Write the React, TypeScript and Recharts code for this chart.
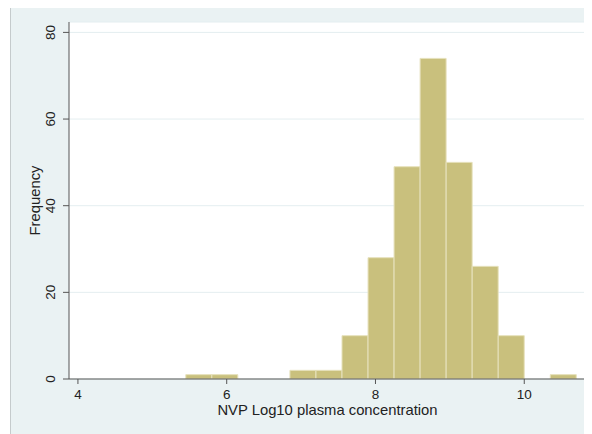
import React from "react";
import { BarChart, Bar, XAxis, YAxis, CartesianGrid } from "recharts";

// Histogram bins: lower edge of each bin, common width, and observed counts
const binLow = [5.45, 5.8, 6.15, 6.5, 6.85, 7.2, 7.55, 7.9, 8.25, 8.6, 8.95, 9.3, 9.65, 10.0, 10.35];
const binWidth = 0.35;
const frequency = [1, 1, 0, 0, 2, 2, 10, 28, 49, 74, 50, 26, 10, 0, 1];

const xTicks = [4, 6, 8, 10];
const yTicks = [0, 20, 40, 60, 80];

const data = binLow.map((lo, i) => ({ mid: lo + binWidth / 2, count: frequency[i] }));

const FONT = '"Liberation Sans", Arial, Helvetica, sans-serif';

const YTick = (props: any) => {
  const { x, y, payload } = props;
  return (
    <text
      x={x}
      y={y}
      transform={`rotate(-90, ${x}, ${y})`}
      textAnchor="middle"
      fontFamily={FONT}
      fontSize={13.5}
      fill="#222"
    >
      {payload.value}
    </text>
  );
};

const YLabel = (props: any) => {
  const vb = props.viewBox || {};
  const cx = (vb.x || 0) + 29;
  const cy = (vb.y || 0) + (vb.height || 0) / 2;
  return (
    <text
      x={cx}
      y={cy}
      transform={`rotate(-90, ${cx}, ${cy})`}
      textAnchor="middle"
      fontFamily={FONT}
      fontSize={14.8}
      fill="#222"
    >
      Frequency
    </text>
  );
};

const XLabel = (props: any) => {
  const vb = props.viewBox || {};
  const cx = (vb.x || 0) + (vb.width || 0) / 2;
  const cy = (vb.y || 0) + 36;
  return (
    <text x={cx} y={cy} textAnchor="middle" fontFamily={FONT} fontSize={14.8} fill="#222">
      NVP Log10 plasma concentration
    </text>
  );
};

export default function App() {
  return (
    <div
      style={{
        marginLeft: 2,
        width: 581,
        height: 426,
        background: "#EAF2F3",
        borderLeft: "1px solid #C5CBCC",
      }}
    >
      <BarChart
        width={581}
        height={426}
        data={data}
        margin={{ top: 14, right: 6, left: 0, bottom: 0 }}
        barCategoryGap={0}
        barGap={0}
      >
        <CartesianGrid vertical={false} stroke="#E4EEF0" fill="#FFFFFF" />
        <XAxis
          dataKey="mid"
          type="number"
          domain={[3.88, 10.83]}
          allowDataOverflow
          ticks={xTicks}
          height={55}
          tickSize={5}
          tickMargin={5}
          axisLine={{ stroke: "#555" }}
          tickLine={{ stroke: "#555" }}
          tick={{ fontFamily: FONT, fontSize: 13.5, fill: "#222" }}
          label={<XLabel />}
        />
        <YAxis
          type="number"
          domain={[0, 82.4]}
          allowDataOverflow
          ticks={yTicks}
          width={58}
          tickSize={6}
          tickMargin={8}
          axisLine={{ stroke: "#555" }}
          tickLine={{ stroke: "#555" }}
          tick={<YTick />}
          label={<YLabel />}
        />
        <Bar
          dataKey="count"
          fill="#C9C07D"
          stroke="#E6E1BC"
          strokeWidth={1}
          isAnimationActive={false}
        />
      </BarChart>
    </div>
  );
}
